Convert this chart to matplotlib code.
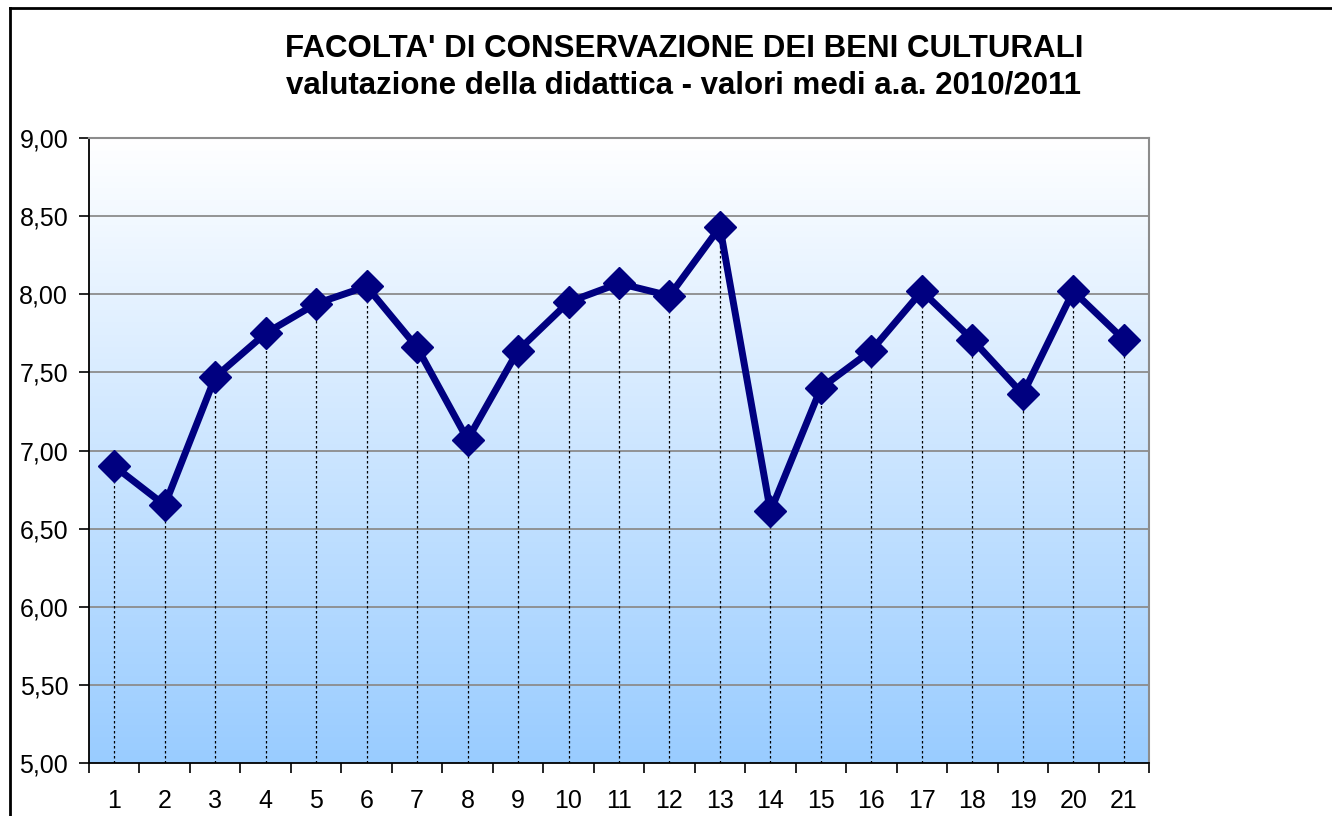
import matplotlib
matplotlib.use("Agg")
import matplotlib.pyplot as plt
import numpy as np
from matplotlib.lines import Line2D

# data
categories = list(range(1, 22))
values = [6.90, 6.65, 7.47, 7.75, 7.94, 8.05, 7.66, 7.07, 7.64, 7.95, 8.07,
          7.99, 8.43, 6.61, 7.40, 7.64, 8.02, 7.71, 7.36, 8.02, 7.71]
yticks = [5.0, 5.5, 6.0, 6.5, 7.0, 7.5, 8.0, 8.5, 9.0]
title = "FACOLTA' DI CONSERVAZIONE DEI BENI CULTURALI\nvalutazione della didattica - valori medi a.a. 2010/2011"

plt.rcParams['font.family'] = ['Liberation Sans', 'DejaVu Sans']

fig = plt.figure(figsize=(13.32, 8.16), dpi=100)
ax = fig.add_axes([89/1332, 1 - 763/816, 1060/1332, 625/816])

ymin, ymax = 5.0, 9.0
xmin, xmax = 0.5, len(categories) + 0.5

# gradient background, white at top to light blue at bottom
top = np.array([1.0, 1.0, 1.0])
bot = np.array([153, 204, 255]) / 255
t = np.linspace(0, 1, 256)[:, None]
grad = (top * (1 - t) + bot * t)[:, None, :]
ax.imshow(grad, extent=[xmin, xmax, ymin, ymax], aspect='auto', zorder=0,
          origin='upper', interpolation='bilinear')

# horizontal gridlines
for yv in yticks[1:-1]:
    ax.axhline(yv, color='#8c8c8c', lw=1.3, zorder=1)

# dashed drop lines
ax.vlines(categories, ymin, values, colors='black', linestyles=(0, (2, 2)),
          lw=0.9, zorder=2)

ax.plot(categories, values, color='#000080', lw=5, marker='D',
        markersize=16, markeredgecolor='#000080', zorder=3, solid_joinstyle='round')

ax.set_xlim(xmin, xmax)
ax.set_ylim(ymin, ymax)

ax.set_yticks(yticks)
ax.set_yticklabels([f"{v:.2f}".replace('.', ',') for v in yticks], fontsize=18)
ax.set_xticks(np.arange(0.5, len(categories) + 1, 1.0))
ax.set_xticklabels([])
ax.set_xticks(categories, minor=True)
ax.set_xticklabels([str(c) for c in categories], minor=True, fontsize=18)
ax.tick_params(axis='x', which='minor', length=0, pad=19)
ax.tick_params(axis='x', which='major', length=7, width=1.2, direction='out')
ax.tick_params(axis='y', length=7, width=1.2, direction='out', pad=8)

ax.spines['left'].set_color('black')
ax.spines['bottom'].set_color('black')
ax.spines['left'].set_linewidth(1.3)
ax.spines['bottom'].set_linewidth(1.3)
ax.spines['top'].set_color('#8c8c8c')
ax.spines['right'].set_color('#8c8c8c')
ax.spines['top'].set_linewidth(1.5)
ax.spines['right'].set_linewidth(1.5)

fig.text(684/1332, 1 - 67/816, title, ha='center', va='center',
         fontsize=22.5, fontweight='bold', linespacing=1.3)

# outer frame lines (top and left)
fig.add_artist(Line2D([10/1332, 1], [1 - 8/816, 1 - 8/816], color='black', lw=2))
fig.add_artist(Line2D([10/1332, 10/1332], [0, 1 - 8/816], color='black', lw=2))

fig.savefig("out.png", dpi=100)
